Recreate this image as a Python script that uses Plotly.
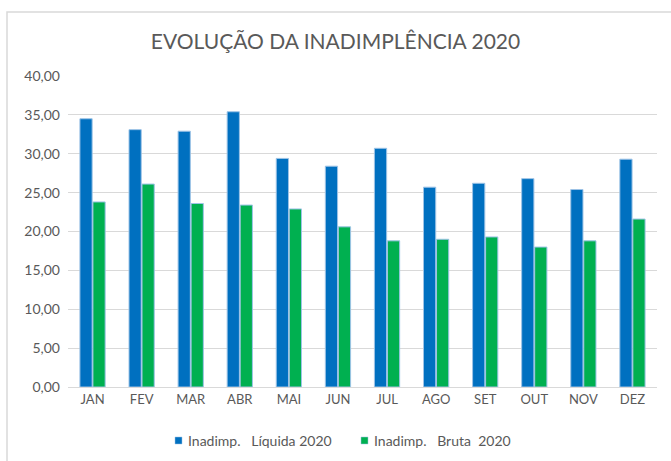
import plotly.graph_objects as go

MONTHS = ["JAN", "FEV", "MAR", "ABR", "MAI", "JUN",
          "JUL", "AGO", "SET", "OUT", "NOV", "DEZ"]
LIQUIDA_2020 = [34.5, 33.1, 32.9, 35.4, 29.4, 28.4,
                30.7, 25.7, 26.2, 26.8, 25.4, 29.3]
BRUTA_2020 = [23.8, 26.1, 23.6, 23.4, 22.9, 20.6,
              18.8, 19.0, 19.3, 18.0, 18.8, 21.6]
SERIES_NAMES = ["Inadimp.   Líquida 2020", "Inadimp.   Bruta  2020"]

BLUE = "#0070C0"
GREEN = "#00B050"
TEXT = "#595959"
GRID = "#D9D9D9"
FONT = "Lato"

W, H = 671, 461
ML, MR, MT, MB = 68, 14, 76, 74
PW, PH = W - ML - MR, H - MT - MB


def px_x(px):
    return (px - ML) / PW


def px_y(py):
    return (H - MB - py) / PH


fig = go.Figure()
for name, vals, col in [(SERIES_NAMES[0], LIQUIDA_2020, BLUE),
                        (SERIES_NAMES[1], BRUTA_2020, GREEN)]:
    fig.add_trace(go.Bar(
        x=MONTHS, y=vals, name=name, showlegend=False,
        marker=dict(color=col, line=dict(color="#9DC3E6", width=1)),
    ))

# Excel-style chart-area border (cut off at right and bottom)
fig.add_shape(
    type="rect", xref="paper", yref="paper",
    x0=px_x(7), x1=px_x(W + 5), y0=px_y(H + 5), y1=px_y(12),
    line=dict(color="#D9D9D9", width=1.5), fillcolor="rgba(0,0,0,0)",
    layer="below",
)

# legend drawn by hand: small squares close to the text, like Excel
for name, col, sx in [(SERIES_NAMES[0], BLUE, 175), (SERIES_NAMES[1], GREEN, 361)]:
    fig.add_shape(type="rect", xref="paper", yref="paper",
                  x0=px_x(sx), x1=px_x(sx + 7), y0=px_y(444), y1=px_y(437),
                  fillcolor=col, line=dict(color="#9DC3E6", width=0.5))
    fig.add_annotation(xref="paper", yref="paper", x=px_x(sx + 11), y=px_y(440.5),
                       xanchor="left", yanchor="middle", showarrow=False,
                       text=name.replace(" ", "&nbsp;"),
                       font=dict(family=FONT, size=14, color=TEXT))

fig.update_layout(
    width=W, height=H,
    separators=",.",
    title=dict(text="EVOLUÇÃO DA INADIMPLÊNCIA 2020",
               x=0.5, xanchor="center", y=1 - 42 / H, yanchor="middle",
               font=dict(family=FONT, size=21, color=TEXT)),
    paper_bgcolor="white", plot_bgcolor="white",
    barmode="group", bargap=0.47, bargroupgap=0.06,
    margin=dict(l=ML, r=MR, t=MT, b=MB),
    xaxis=dict(showgrid=False, showline=True, linecolor=GRID, linewidth=1,
               ticks="", tickfont=dict(family=FONT, size=13, color=TEXT)),
    yaxis=dict(range=[0, 40], dtick=5, tickformat=".2f",
               showgrid=True, gridcolor=GRID, gridwidth=1, zeroline=False,
               ticks="", ticklabelstandoff=7,
               tickfont=dict(family=FONT, size=14, color=TEXT)),
    showlegend=False,
)

fig.write_html("out.html", config={"displayModeBar": False},
               post_script="document.body.style.margin='0';")
